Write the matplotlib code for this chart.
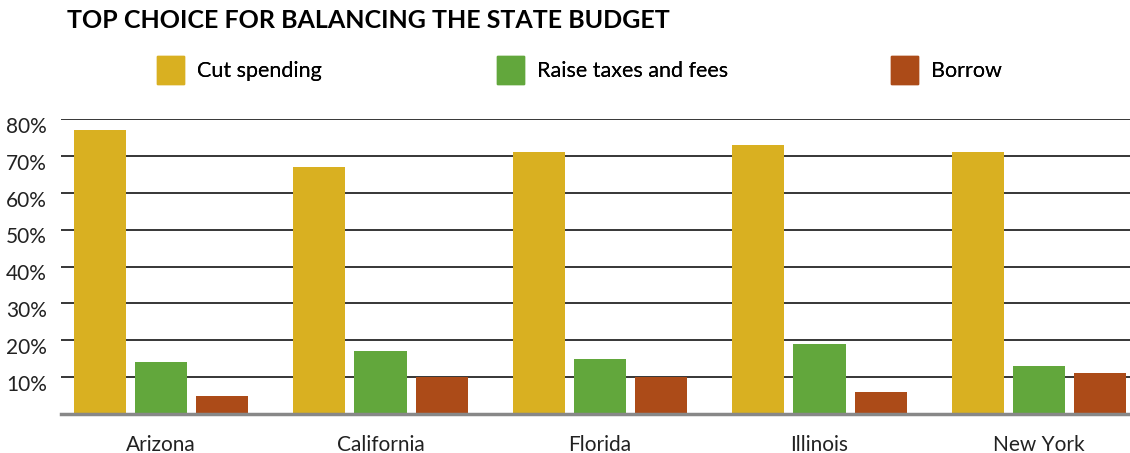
import matplotlib.pyplot as plt
import matplotlib.transforms as mtransforms
from matplotlib.patches import Patch
import numpy as np

states = ["Arizona", "California", "Florida", "Illinois", "New York"]
cut_spending = [77, 67, 71, 73, 71]
raise_taxes = [14, 17, 15, 19, 13]
borrow = [5, 10, 10, 6, 11]
series_names = ["Cut spending", "Raise taxes and fees", "Borrow"]
colors = ["#D9B021", "#62A73C", "#AC4B18"]
yticks = [10, 20, 30, 40, 50, 60, 70, 80]

plt.rcParams['font.family'] = ['Lato', 'DejaVu Sans']

fig = plt.figure(figsize=(11.3, 4.53), dpi=100)
ax = fig.add_axes([61/1130, 39/453, 1 - 61/1130, 294.7/453])

x = np.arange(len(states))
w = 0.237
off = 0.278
for i, (vals, name, c) in enumerate(zip([cut_spending, raise_taxes, borrow], series_names, colors)):
    ax.bar(x + (i - 1) * off, vals, width=w, color=c, label=name, zorder=3)

ax.set_xlim(-0.4556, 4.4146)
ax.set_ylim(0, 80)
ax.set_yticks(yticks)
ax.set_yticklabels([f"{v}%" for v in yticks], fontsize=15, color="#222222")
ax.set_xticks(x)
ax.set_xticklabels(states, fontsize=15, color="#222222")
ax.tick_params(axis='both', length=0)
ax.tick_params(axis='y', pad=10)
ax.tick_params(axis='x', pad=15)
# labels sit slightly below their gridlines
shift = mtransforms.ScaledTranslation(0, -4/72, fig.dpi_scale_trans)
for lab in ax.get_yticklabels():
    lab.set_transform(lab.get_transform() + shift)
for v in yticks:
    ax.axhline(v, color="black", lw=1.1, zorder=1)
for s in ['top', 'right', 'left']:
    ax.spines[s].set_visible(False)
ax.spines['bottom'].set_color("#888888")
ax.spines['bottom'].set_linewidth(2.5)
ax.spines['bottom'].set_zorder(4)

fig.text(67/1130, 1 - 20/453, "TOP CHOICE FOR BALANCING THE STATE BUDGET",
         fontsize=18, fontweight='bold', va='center', ha='left', color="black")

# one legend entry per series, placed like the original
leg_x = [157, 497, 891]
for name, c, lx in zip(series_names, colors, leg_x):
    leg = fig.legend(handles=[Patch(color=c, label=name)], loc='center left',
                     bbox_to_anchor=(lx/1130, 1 - 70/453), frameon=False, fontsize=15.5,
                     handlelength=1.256, handleheight=1.555, handletextpad=0.6,
                     borderaxespad=0, borderpad=0)
    fig.add_artist(leg)

plt.savefig("out.png", dpi=100)
